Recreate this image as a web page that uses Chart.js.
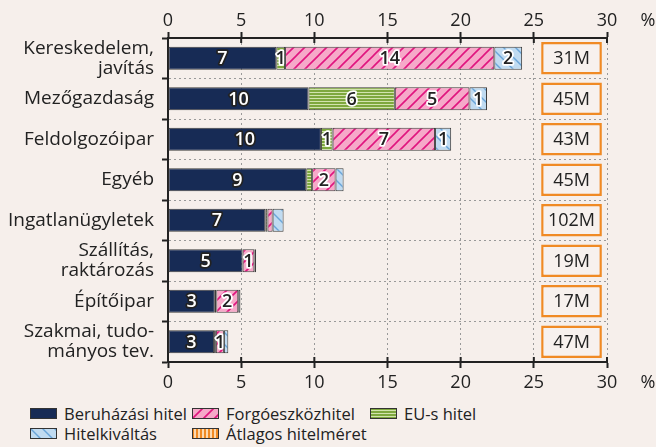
<!DOCTYPE html>
<html>
<head>
<meta charset="utf-8">
<script src="https://cdn.jsdelivr.net/npm/chart.js@4"></script>
<style>
body { margin: 0; background: #f6efeb; font-family: "Open Sans", sans-serif; }
#wrap { position: relative; width: 656px; height: 447px; }
#legend { position: absolute; left: 0; top: 403px; width: 656px; height: 44px; font-size: 16.5px; color: #222; }
.item { position: absolute; height: 20px; display: flex; align-items: center; white-space: nowrap; }
.item canvas { width: 27px; height: 11px; margin-right: 7px; }
</style>
</head>
<body>
<div id="wrap">
  <canvas id="myChart" width="656" height="400"></canvas>
  <div id="legend"></div>
</div>
<script>
// kategóriák és értékek (%)
var categories = [['Kereskedelem,', 'javítás'], 'Mezőgazdaság', 'Feldolgozóipar', 'Egyéb',
    'Ingatlanügyletek', ['Szállítás,', 'raktározás'], 'Építőipar', ['Szakmai, tudo-', 'mányos tev.']];
var beruhazasi   = [7.4, 9.6, 10.45, 9.45, 6.65, 5.1, 3.2, 3.15];
var euHitel      = [0.6, 5.9, 0.8, 0.4, 0.15, 0, 0.1, 0.12];
var forgoeszkoz  = [14.3, 5.1, 7.0, 1.6, 0.35, 0.8, 1.5, 0.55];
var hitelkivalt  = [1.9, 1.2, 1.1, 0.55, 0.75, 0.12, 0.15, 0.3];
var atlagosMeret = [31, 45, 43, 45, 102, 19, 17, 47];  // millió Ft
var xTicks = [0, 5, 10, 15, 20, 25, 30];

var BOX_FROM = 25.5, BOX_TO = 29.65; // hol álljon a doboz a tengelyen
var FONT = '"Open Sans"';

function makePattern(kind) {
    var c = document.createElement('canvas');
    var g = c.getContext('2d');
    if (kind === 'navy') {
        c.width = c.height = 4; g.fillStyle = '#172b55'; g.fillRect(0, 0, 4, 4);
    } else if (kind === 'pink') {
        c.width = c.height = 11;
        g.fillStyle = '#f6a9c9'; g.fillRect(0, 0, 11, 11);
        g.strokeStyle = '#e0157f'; g.lineWidth = 1.6;
        g.beginPath();
        g.moveTo(-1, 12); g.lineTo(12, -1);
        g.moveTo(-1, 1); g.lineTo(1, -1);
        g.moveTo(10, 12); g.lineTo(12, 10);
        g.stroke();
    } else if (kind === 'green') {
        c.width = 1; c.height = 3;
        g.fillStyle = '#7ea83e'; g.fillRect(0, 0, 1, 2);
        g.fillStyle = '#d2e3ae'; g.fillRect(0, 2, 1, 1);
    } else if (kind === 'blue') {
        c.width = c.height = 12;
        g.fillStyle = '#c0dbf1'; g.fillRect(0, 0, 12, 12);
        g.strokeStyle = '#6aa5d9'; g.lineWidth = 1.4;
        g.beginPath();
        g.moveTo(-1, -1); g.lineTo(13, 13);
        g.moveTo(11, -1); g.lineTo(13, 1);
        g.moveTo(-1, 11); g.lineTo(1, 13);
        g.stroke();
    } else if (kind === 'orange') {
        c.width = 4; c.height = 1;
        g.fillStyle = '#f08a24'; g.fillRect(0, 0, 2, 1);
        g.fillStyle = '#fcd9b0'; g.fillRect(2, 0, 2, 1);
    }
    return g.createPattern(c, 'repeat');
}

var Data = {
    labels: categories,
    datasets: [
        { label: 'Beruházási hitel', data: beruhazasi, kind: 'navy', minLabel: 0.5, lightText: true },
        { label: 'EU-s hitel', data: euHitel, kind: 'green', minLabel: 0.5 },
        { label: 'Forgóeszközhitel', data: forgoeszkoz, kind: 'pink', minLabel: 0.5 },
        { label: 'Hitelkiváltás', data: hitelkivalt, kind: 'blue', minLabel: 1 },
        { label: 'Átlagos hitelméret', kind: 'orange', isBox: true, stack: 'box',
          data: atlagosMeret.map(function () { return [BOX_FROM, BOX_TO]; }) }
    ]
};

Data.datasets.forEach(function (ds) {
    if (ds.isBox) {
        ds.backgroundColor = '#f7f1ee';
        ds.borderColor = '#f08a24';
        ds.borderWidth = 2.5;
        ds.barPercentage = 0.8;
    } else {
        ds.backgroundColor = makePattern(ds.kind);
        ds.borderColor = '#3c3c3c';
        ds.borderWidth = 1;
        ds.barPercentage = 0.57;
        ds.stack = 'hitel';
    }
    ds.categoryPercentage = 1;
    ds.grouped = false;
    ds.borderSkipped = false;
});

// számok a szegmensekre + dobozokba
var segmentLabels = {
    id: 'segmentLabels',
    afterDatasetsDraw: function (chart) {
        var ctx = chart.ctx;
        ctx.save();
        ctx.textAlign = 'center';
        ctx.textBaseline = 'middle';
        ctx.lineJoin = 'round';
        chart.data.datasets.forEach(function (ds, i) {
            var meta = chart.getDatasetMeta(i);
            meta.data.forEach(function (bar, j) {
                var p = bar.getCenterPoint();
                if (ds.isBox) {
                    ctx.font = '18px ' + FONT;
                    ctx.fillStyle = '#222';
                    ctx.fillText(atlagosMeret[j] + 'M', p.x, p.y + 1);
                    return;
                }
                var v = ds.data[j];
                if (v < ds.minLabel) return;
                var t = String(Math.round(v));
                ctx.font = '600 18px ' + FONT;
                ctx.lineWidth = 3.5;
                ctx.strokeStyle = ds.lightText ? '#222' : '#fff';
                ctx.fillStyle = ds.lightText ? '#fff' : '#222';
                ctx.strokeText(t, p.x, p.y + 1);
                ctx.fillText(t, p.x, p.y + 1);
            });
        });
        ctx.restore();
    }
};

// tengelyen átnyúló osztásjelek, % jel
var axisExtras = {
    id: 'axisExtras',
    afterDraw: function (chart) {
        var ctx = chart.ctx, a = chart.chartArea, sx = chart.scales.x;
        ctx.save();
        ctx.strokeStyle = '#222';
        ctx.lineWidth = 2;
        sx.ticks.forEach(function (t, i) {
            var x = sx.getPixelForTick(i);
            ctx.beginPath();
            ctx.moveTo(x, a.top); ctx.lineTo(x, a.top + 5);
            ctx.moveTo(x, a.bottom); ctx.lineTo(x, a.bottom - 5);
            ctx.stroke();
        });
        ctx.fillStyle = '#222';
        ctx.font = '18px ' + FONT;
        ctx.textAlign = 'center';
        ctx.textBaseline = 'middle';
        ctx.fillText('%', 648, a.top - 17);
        ctx.fillText('%', 648, a.bottom + 21);
        ctx.restore();
    }
};

var tickFont = { family: 'Open Sans', size: 18 };

window.onload = function () {
    var ctx = document.getElementById('myChart').getContext('2d');
    window.myBar = new Chart(ctx, {
        type: 'bar',
        data: Data,
        plugins: [segmentLabels, axisExtras],
        options: {
            indexAxis: 'y',
            responsive: false,
            animation: false,
            layout: { padding: { left: 0, right: 49, top: 0, bottom: 0 } },
            plugins: { legend: { display: false }, tooltip: { enabled: false } },
            scales: {
                x: {
                    position: 'bottom', stacked: true, min: 0, max: 30,
                    afterBuildTicks: function (s) { s.ticks = xTicks.map(function (v) { return { value: v }; }); },
                    afterFit: function (s) { s.height = 38; },
                    ticks: { font: tickFont, color: '#222', padding: 4, maxRotation: 0 },
                    grid: { color: '#999', lineWidth: 1, tickColor: '#222', tickLength: 6, tickWidth: 2, tickBorderDash: [] },
                    border: { color: '#222', width: 2, dash: [2, 3] }
                },
                xTop: {
                    position: 'top', min: 0, max: 30,
                    afterBuildTicks: function (s) { s.ticks = xTicks.map(function (v) { return { value: v }; }); },
                    afterFit: function (s) { s.height = 38; },
                    ticks: { font: tickFont, color: '#222', padding: 0, maxRotation: 0 },
                    grid: { drawOnChartArea: false, tickColor: '#222', tickLength: 6, tickWidth: 2 },
                    border: { color: '#222', width: 2 }
                },
                y: {
                    stacked: true,
                    afterFit: function (s) { s.width = 168; },
                    ticks: { font: { family: 'Open Sans', size: 19, lineHeight: 1.05 }, color: '#222', padding: 8, autoSkip: false },
                    grid: { offset: true, color: '#999', tickColor: '#222', tickLength: 6, tickWidth: 2, tickBorderDash: [] },
                    border: { color: '#222', width: 2, dash: [2, 3] }
                }
            }
        }
    });

    // jelmagyarázat
    var legendOrder = [0, 2, 1, 3, 4];
    var legendPos = [[30, 0], [192, 0], [370, 0], [30, 20], [192, 20]];
    var box = document.getElementById('legend');
    legendOrder.forEach(function (di, k) {
        var ds = Data.datasets[di];
        var item = document.createElement('div');
        item.className = 'item';
        item.style.left = legendPos[k][0] + 'px';
        item.style.top = legendPos[k][1] + 'px';
        var sw = document.createElement('canvas');
        sw.width = 27; sw.height = 11;
        var g = sw.getContext('2d');
        g.fillStyle = makePattern(ds.kind);
        g.fillRect(0, 0, 27, 11);
        g.strokeStyle = '#333'; g.lineWidth = 1;
        g.strokeRect(0.5, 0.5, 26, 10);
        item.appendChild(sw);
        var span = document.createElement('span');
        span.textContent = ds.label;
        item.appendChild(span);
        box.appendChild(item);
    });
};
</script>
</body>
</html>
